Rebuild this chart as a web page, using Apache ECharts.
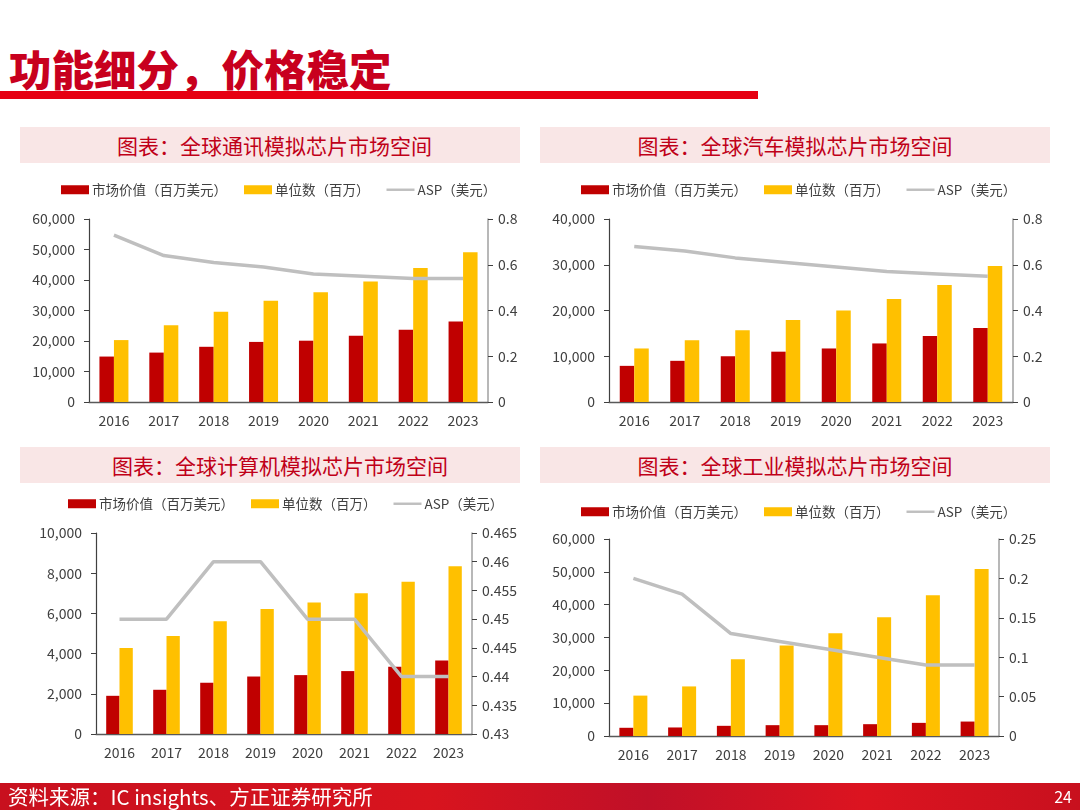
<!DOCTYPE html>
<html>
<head>
<meta charset="utf-8">
<script src="https://cdn.jsdelivr.net/npm/echarts@6/dist/echarts.min.js"></script>
<style>
  html, body { margin:0; padding:0; background:#fff; }
  #wrap { position:relative; width:1080px; height:810px; overflow:hidden; font-family:"Noto Sans CJK SC","Noto Sans",sans-serif; }
  #title { position:absolute; left:9px; top:39px; font-size:42.5px; font-weight:900; color:#c8001e; line-height:58px; }
  #rule { position:absolute; left:0; top:91px; width:758px; height:8px; background:#e60012; }
  .hdr { position:absolute; box-sizing:border-box; height:36px; background:#f9e6e6; color:#c00018; font-size:21px; line-height:36px; text-align:center; }
  #footer { position:absolute; left:0; top:783px; width:1080px; height:27px; background:linear-gradient(90deg,#c8101e 0%,#d8141e 40%,#c01028 60%,#dc1420 80%,#c8101e 100%); color:#fff; }
  #src { position:absolute; left:8px; top:0; font-size:20.5px; line-height:27px; }
  #pg { position:absolute; right:8px; top:0; font-size:16px; line-height:27px; }
  #chart { position:absolute; left:0; top:0; width:1080px; height:810px; }
</style>
</head>
<body>
<div id="wrap">
  <div id="title">功能细分，价格稳定</div>
  <div id="rule"></div>
  <div class="hdr" style="left:20px;top:127px;width:500px;padding-left:9px;">图表：全球通讯模拟芯片市场空间</div>
  <div class="hdr" style="left:540px;top:127px;width:510px;">图表：全球汽车模拟芯片市场空间</div>
  <div class="hdr" style="left:20px;top:447px;width:500px;padding-left:20px;">图表：全球计算机模拟芯片市场空间</div>
  <div class="hdr" style="left:540px;top:447px;width:510px;">图表：全球工业模拟芯片市场空间</div>
  <div id="chart"></div>
  <div id="footer"><span id="src">资料来源：IC insights、方正证券研究所</span><span id="pg">24</span></div>
</div>
<script>
// ---- data ----
var years = ['2016','2017','2018','2019','2020','2021','2022','2023'];
var seriesNames = ['市场价值（百万美元）','单位数（百万）','ASP（美元）'];

// 通讯
var commValue = [14900, 16200, 18100, 19700, 20100, 21700, 23700, 26400];
var commUnits = [20300, 25200, 29600, 33200, 36000, 39500, 43900, 49100];
var commAsp   = [0.73, 0.64, 0.61, 0.59, 0.56, 0.55, 0.54, 0.54];
// 汽车
var autoValue = [7900, 9000, 10000, 11000, 11700, 12800, 14400, 16200];
var autoUnits = [11700, 13500, 15700, 17900, 20000, 22500, 25600, 29700];
var autoAsp   = [0.68, 0.66, 0.63, 0.61, 0.59, 0.57, 0.56, 0.55];
// 计算机
var compValue = [1900, 2200, 2550, 2860, 2930, 3130, 3340, 3660];
var compUnits = [4280, 4880, 5610, 6220, 6540, 7000, 7570, 8350];
var compAsp   = [0.45, 0.45, 0.46, 0.46, 0.45, 0.45, 0.44, 0.44];
// 工业
var indValue = [2500, 2600, 3100, 3300, 3300, 3600, 4000, 4400];
var indUnits = [12300, 15100, 23400, 27600, 31300, 36200, 42900, 50900];
var indAsp   = [0.20, 0.18, 0.13, 0.12, 0.11, 0.10, 0.09, 0.09];

// axis ranges
var leftAxes  = [{max:60000, interval:10000}, {max:40000, interval:10000}, {max:10000, interval:2000}, {max:60000, interval:10000}];
var rightAxes = [{min:0, max:0.8, interval:0.2}, {min:0, max:0.8, interval:0.2}, {min:0.43, max:0.465, interval:0.005}, {min:0, max:0.25, interval:0.05}];

var FONT = '"Noto Sans CJK SC","Noto Sans",sans-serif';
var TXT = '#404040';
var RED = '#c00000', YEL = '#ffc000', GRY = '#bfbfbf';
// thin line icon inside a 30x9 box (invisible moveTo points keep the box size)
var LINE_ICON = 'path://M0,0L0,0M0,3.2L30,3.2L30,5.8L0,5.8ZM30,9L30,9';

var panels = [
  {grid:{left:89, top:219, width:399, height:183}, legend:{left:61, top:183}, bw:14.5, v:commValue, u:commUnits, a:commAsp},
  {grid:{left:609, top:219, width:404, height:183}, legend:{left:581, top:183}, bw:14.5, v:autoValue, u:autoUnits, a:autoAsp},
  {grid:{left:96, top:533, width:376, height:201}, legend:{left:68, top:497}, bw:13.3, v:compValue, u:compUnits, a:compAsp},
  {grid:{left:609, top:539, width:390, height:197}, legend:{left:581, top:505}, bw:14, v:indValue, u:indUnits, a:indAsp}
];

var option = {
  animation:false,
  textStyle:{fontFamily:FONT},
  grid:[], xAxis:[], yAxis:[], legend:[], series:[]
};

function fmtRight(v){ return String(Math.round(v*1000)/1000); }
function fmtLeft(v){ return Number(v).toLocaleString('en-US'); }

panels.forEach(function(p, i){
  option.grid.push(Object.assign({containLabel:false}, p.grid));
  option.xAxis.push({
    type:'category', gridIndex:i, data:years,
    axisLine:{lineStyle:{color:'#595959', width:1.3}},
    axisTick:{show:false},
    axisLabel:{color:TXT, fontSize:14, margin:12, fontFamily:FONT}
  });
  option.yAxis.push({
    type:'value', gridIndex:i, min:0, max:leftAxes[i].max, interval:leftAxes[i].interval,
    axisLine:{show:true, lineStyle:{color:'#404040', width:1.2}},
    axisTick:{show:true, inside:false, length:5, lineStyle:{color:'#404040'}},
    splitLine:{show:false},
    axisLabel:{color:TXT, fontSize:14, margin:14, formatter:fmtLeft, fontFamily:FONT}
  });
  option.yAxis.push({
    type:'value', gridIndex:i, position:'right', min:rightAxes[i].min, max:rightAxes[i].max, interval:rightAxes[i].interval,
    axisLine:{show:true, lineStyle:{color:'#a0a0a0', width:1.5}},
    axisTick:{show:true, inside:false, length:5, lineStyle:{color:'#404040'}},
    splitLine:{show:false},
    axisLabel:{color:TXT, fontSize:14, margin:10, formatter:fmtRight, fontFamily:FONT}
  });
  option.legend.push({
    left:p.legend.left, top:p.legend.top, padding:0, itemGap:17, itemWidth:28, itemHeight:9,
    textStyle:{color:TXT, fontSize:13.5, fontFamily:FONT, padding:[0,0,0,-2]},
    selectedMode:false,
    data:[{name:seriesNames[0], icon:'rect'},{name:seriesNames[1], icon:'rect'},{name:seriesNames[2], icon:LINE_ICON}]
  });
  option.series.push({
    name:seriesNames[0], type:'bar', xAxisIndex:i, yAxisIndex:i*2, data:p.v,
    barWidth:p.bw, barGap:'0%', itemStyle:{color:RED}
  });
  option.series.push({
    name:seriesNames[1], type:'bar', xAxisIndex:i, yAxisIndex:i*2, data:p.u,
    barWidth:p.bw, barGap:'0%', itemStyle:{color:YEL}
  });
  option.series.push({
    name:seriesNames[2], type:'line', xAxisIndex:i, yAxisIndex:i*2+1, data:p.a,
    symbol:'none', lineStyle:{color:GRY, width:3.5}, itemStyle:{color:GRY}, z:5
  });
});

var chart = echarts.init(document.getElementById('chart'), null, {renderer:'canvas'});
chart.setOption(option);
</script>
</body>
</html>
